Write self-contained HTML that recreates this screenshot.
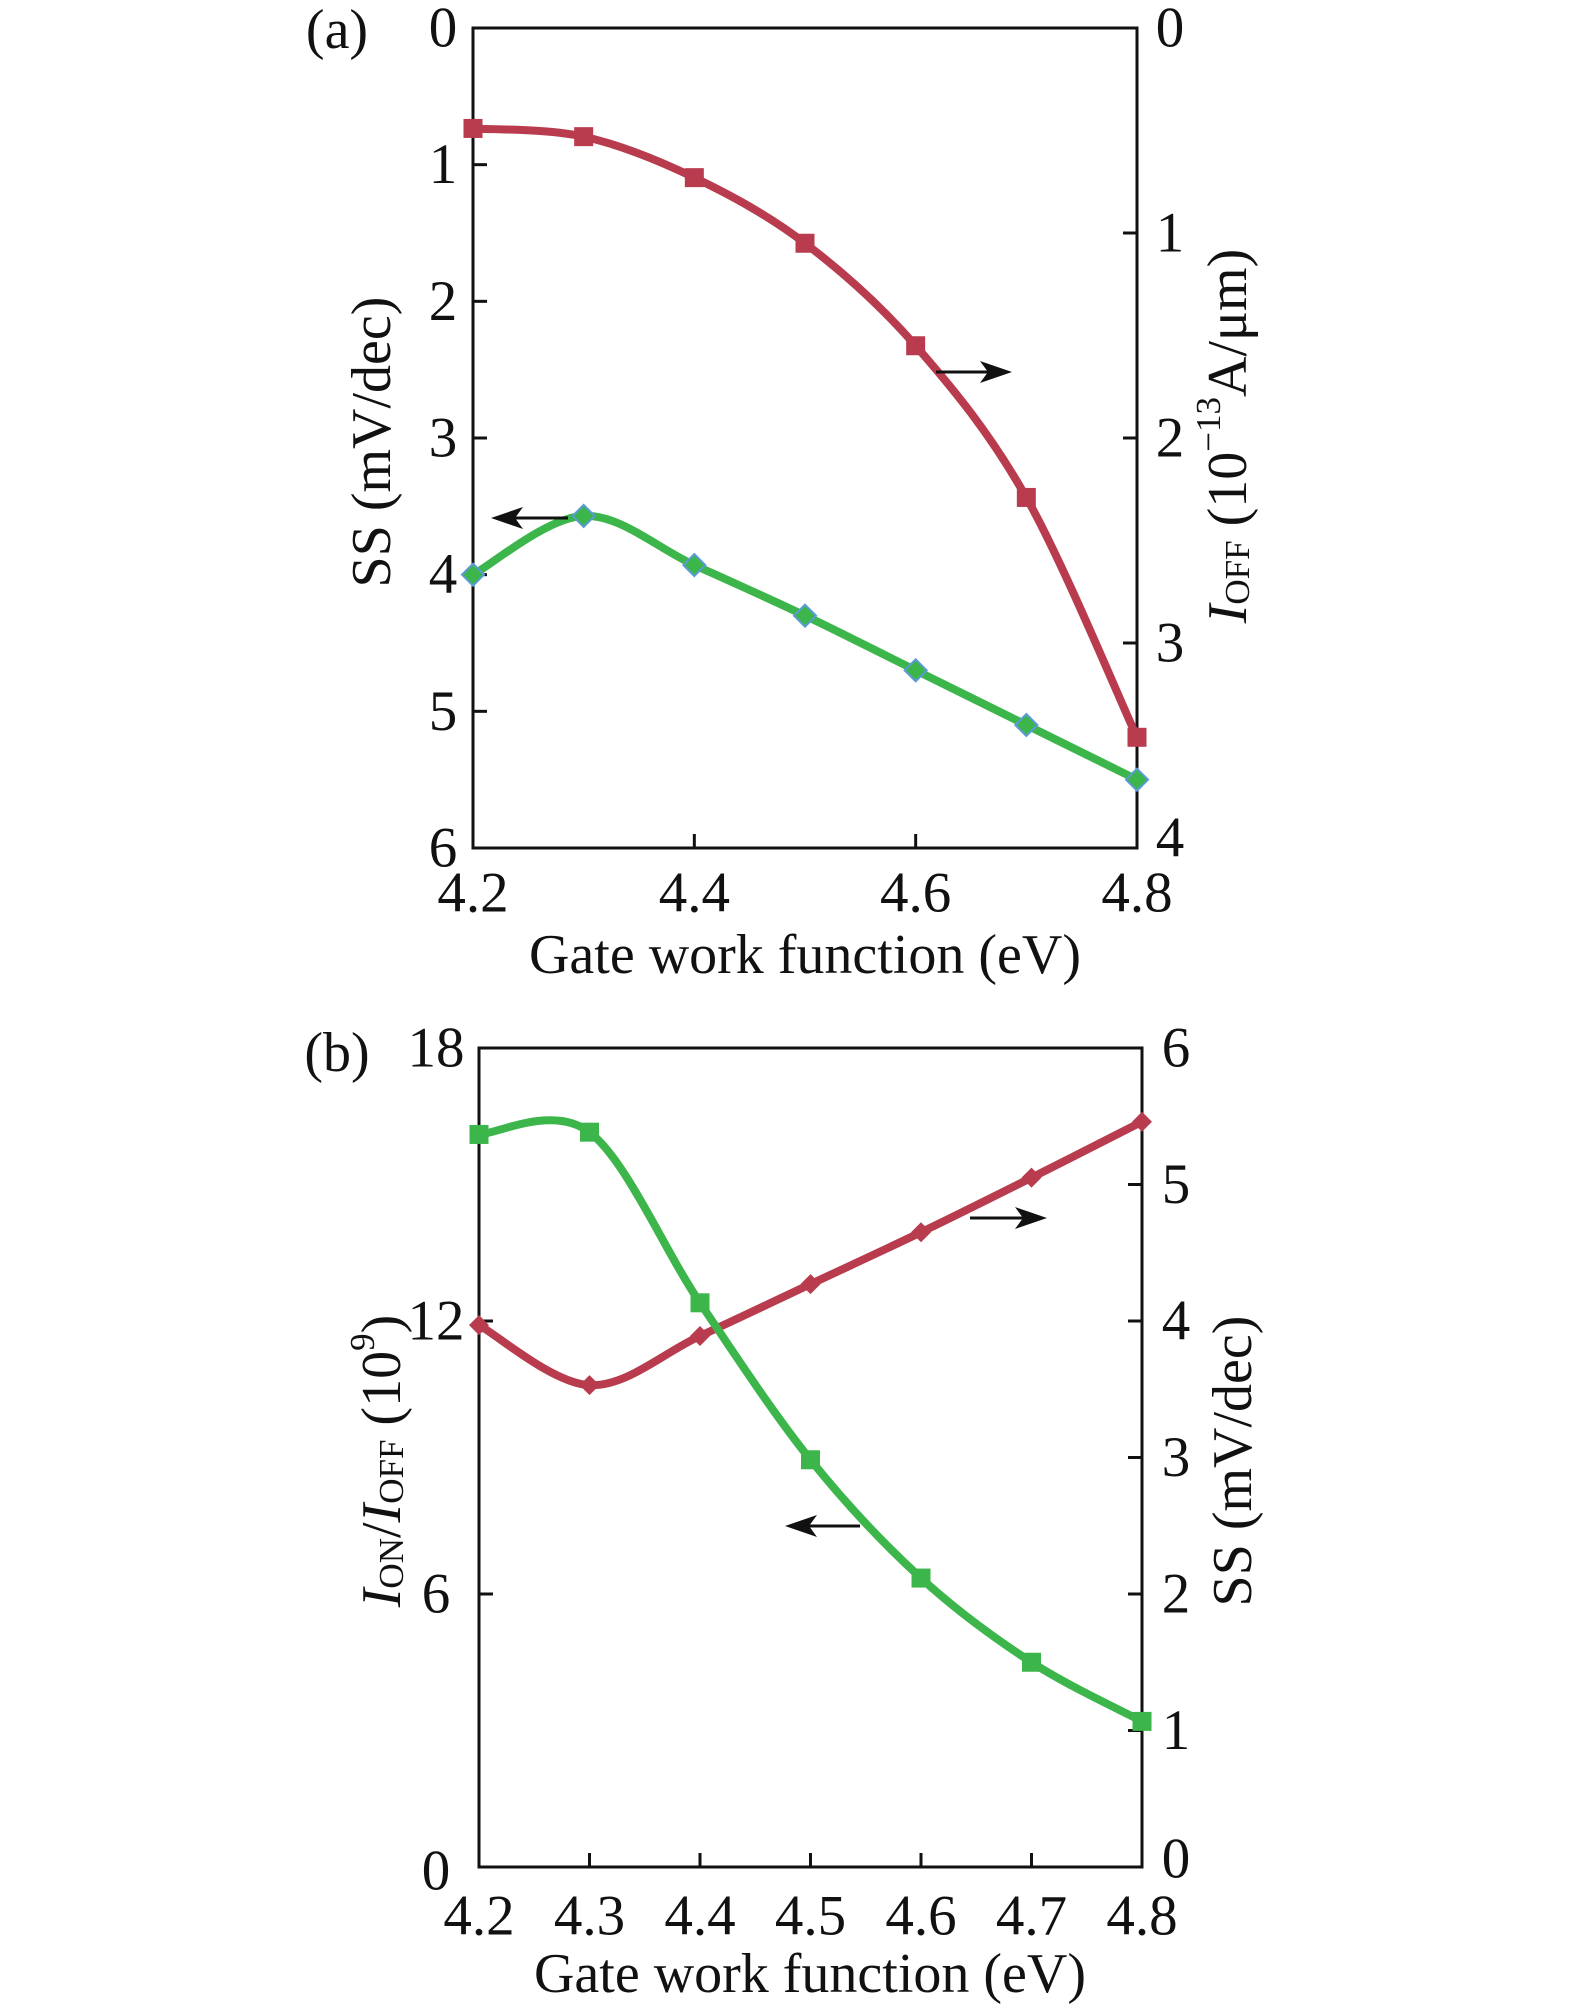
<!DOCTYPE html>
<html><head><meta charset="utf-8"><style>
html,body{margin:0;padding:0;background:#fff;}
svg{display:block;font-family:"Liberation Serif",serif;}
</style></head><body>
<svg id="fig" width="1575" height="2005" viewBox="0 0 1575 2005" xmlns="http://www.w3.org/2000/svg"></svg>
<script>
// Panel (a) data
const xA = [4.2, 4.3, 4.4, 4.5, 4.6, 4.7, 4.8];
const ssA = [4.0, 3.57, 3.93, 4.3, 4.7, 5.1, 5.5];
const ioffA = [0.49, 0.53, 0.73, 1.05, 1.55, 2.29, 3.46];
const xTicksA = [4.2, 4.4, 4.6, 4.8];
const leftTicksA = [0, 1, 2, 3, 4, 5, 6];
const rightTicksA = [0, 1, 2, 3, 4];
// Panel (b) data
const xB = [4.2, 4.3, 4.4, 4.5, 4.6, 4.7, 4.8];
const ratioB = [16.1, 16.15, 12.4, 8.95, 6.35, 4.5, 3.2];
const ssB = [3.97, 3.53, 3.89, 4.27, 4.65, 5.05, 5.46];
const xTicksB = [4.2, 4.3, 4.4, 4.5, 4.6, 4.7, 4.8];
const leftTicksB = [0, 6, 12, 18];
const rightTicksB = [0, 1, 2, 3, 4, 5, 6];

const NS = "http://www.w3.org/2000/svg";
const svg = document.getElementById('fig');
const RED = "#b83c4e", GREEN = "#3cb54a";
const TF = 57, AF = 56, SF = 35;
function mk(tag, attrs, parent) {
  const e = document.createElementNS(NS, tag);
  for (const k in attrs) e.setAttribute(k, attrs[k]);
  (parent || svg).appendChild(e);
  return e;
}
function txt(s, x, y, size, anchor, parent, rot) {
  const t = mk('text', {x: x, y: y, 'font-size': size, 'text-anchor': anchor || 'middle', 'dominant-baseline': 'central', fill: '#111'}, parent);
  if (rot) t.setAttribute('transform', 'rotate(' + rot + ' ' + x + ' ' + y + ')');
  t.innerHTML = s;
  return t;
}
function smoothPath(pts) {
  let d = 'M' + pts[0][0] + ',' + pts[0][1];
  for (let i = 0; i < pts.length - 1; i++) {
    const p0 = pts[Math.max(0, i - 1)], p1 = pts[i], p2 = pts[i + 1], p3 = pts[Math.min(pts.length - 1, i + 2)];
    const c1 = [p1[0] + (p2[0] - p0[0]) / 6, p1[1] + (p2[1] - p0[1]) / 6];
    const c2 = [p2[0] - (p3[0] - p1[0]) / 6, p2[1] - (p3[1] - p1[1]) / 6];
    d += ' C' + c1[0] + ',' + c1[1] + ' ' + c2[0] + ',' + c2[1] + ' ' + p2[0] + ',' + p2[1];
  }
  return d;
}
function arrow(x1, y, x2, g, name) {
  const a = mk('g', {}, g);
  
  
  const dir = x2 > x1 ? 1 : -1;
  mk('line', {x1: x1, y1: y, x2: x2 - dir * 10, y2: y, stroke: '#111', 'stroke-width': 3}, a);
  mk('path', {d: 'M' + x2 + ',' + y + ' L' + (x2 - dir * 32) + ',' + (y - 11) + ' L' + (x2 - dir * 24) + ',' + y + ' L' + (x2 - dir * 32) + ',' + (y + 11) + 'Z', fill: '#111'}, a);
}
function series(g, xs, ys, sx, sy, color, marker, name, edge) {
  const s = mk('g', {}, g);
  
  
  const pts = xs.map((x, i) => [sx(x), sy(ys[i])]);
  mk('path', {d: smoothPath(pts), fill: 'none', stroke: color, 'stroke-width': 8, 'stroke-linejoin': 'round'}, s);
  pts.forEach((p) => {
    let m;
    if (marker === 'square') {
      m = mk('rect', {x: p[0] - 9.5, y: p[1] - 9.5, width: 19, height: 19, fill: color}, s);
    } else {
      const r = marker === 'bigdiamond' ? 11 : 10;
      m = mk('path', {d: 'M' + p[0] + ',' + (p[1] - r) + ' L' + (p[0] + r) + ',' + p[1] + ' L' + p[0] + ',' + (p[1] + r) + ' L' + (p[0] - r) + ',' + p[1] + 'Z', fill: color, stroke: edge || 'none', 'stroke-width': edge ? 2 : 0}, s);
    }
    
    
  });
}

// ---------- Panel (a) ----------
(function () {
  const L = 473, R = 1137, T = 28, B = 848;
  const g = mk('g', {});
  
  
  const sx = v => L + (v - 4.2) / 0.6 * (R - L);
  const syL = v => T + v / 6 * (B - T);
  const syR = v => T + v / 4 * (B - T);
  const frame = mk('rect', {x: L, y: T, width: R - L, height: B - T, fill: 'none', stroke: '#111', 'stroke-width': 3}, g);
  
  
  leftTicksA.forEach(v => {
    mk('line', {x1: L, y1: syL(v), x2: L + 14, y2: syL(v), stroke: '#111', 'stroke-width': 3}, g);
    const t = txt(v, 443, syL(v), TF, 'middle', g);
    
    
  });
  rightTicksA.forEach(v => {
    mk('line', {x1: R, y1: syR(v), x2: R - 14, y2: syR(v), stroke: '#111', 'stroke-width': 3}, g);
    const t = txt(v, 1170, syR(v) + (v === 4 ? -10 : 0), TF, 'middle', g);
    
    
  });
  xTicksA.forEach(v => {
    mk('line', {x1: sx(v), y1: B, x2: sx(v), y2: B - 14, stroke: '#111', 'stroke-width': 3}, g);
    const t = txt(v.toFixed(1), sx(v), 893, TF, 'middle', g);
    
    
  });
  let t = txt('(a)', 337, 30, AF, 'middle', g);
   
  t = txt('Gate work function (eV)', 805, 955, AF, 'middle', g);
   
  t = txt('SS (mV/dec)', 372, 442, AF, 'middle', g, -90);
   
  t = txt('<tspan font-style="italic">I</tspan><tspan font-size="' + SF + '" dy="9">OFF</tspan><tspan dy="-9"> (10</tspan><tspan font-size="' + SF + '" dy="-20">−13</tspan><tspan dy="20">A/μm)</tspan>', 1228, 436, AF, 'middle', g, -90);
   
  series(g, xA, ioffA, sx, syR, RED, 'square', 'ioff-series-a');
  series(g, xA, ssA, sx, syL, GREEN, 'bigdiamond', 'ss-series-a', '#5b9bd5');
  arrow(936, 372, 1012, g, 'arrow-right-a');
  arrow(568, 518, 491, g, 'arrow-left-a');
})();

// ---------- Panel (b) ----------
(function () {
  const L = 479, R = 1142, T = 1048, B = 1867;
  const g = mk('g', {});
  
  
  const sx = v => L + (v - 4.2) / 0.6 * (R - L);
  const syL = v => B - v / 18 * (B - T);
  const syR = v => B - v / 6 * (B - T);
  const frame = mk('rect', {x: L, y: T, width: R - L, height: B - T, fill: 'none', stroke: '#111', 'stroke-width': 3}, g);
  
  
  leftTicksB.forEach(v => {
    mk('line', {x1: L, y1: syL(v), x2: L + 14, y2: syL(v), stroke: '#111', 'stroke-width': 3}, g);
    const t = txt(v, 436, syL(v) + (v === 0 ? 4 : 0), TF, 'middle', g);
    
    
  });
  rightTicksB.forEach(v => {
    mk('line', {x1: R, y1: syR(v), x2: R - 14, y2: syR(v), stroke: '#111', 'stroke-width': 3}, g);
    const t = txt(v, 1176, syR(v) + (v === 0 ? -8 : 0), TF, 'middle', g);
    
    
  });
  xTicksB.forEach(v => {
    mk('line', {x1: sx(v), y1: B, x2: sx(v), y2: B - 14, stroke: '#111', 'stroke-width': 3}, g);
    const t = txt(v.toFixed(1), sx(v), 1916, TF, 'middle', g);
    
    
  });
  let t = txt('(b)', 337, 1053, AF, 'middle', g);
   
  t = txt('Gate work function (eV)', 810, 1974, AF, 'middle', g);
   
  t = txt('<tspan font-style="italic">I</tspan><tspan font-size="' + SF + '" dy="9">ON</tspan><tspan dy="-9">/</tspan><tspan font-style="italic">I</tspan><tspan font-size="' + SF + '" dy="9">OFF</tspan><tspan dy="-9"> (10</tspan><tspan font-size="' + SF + '" dy="-20">9</tspan><tspan dy="20">)</tspan>', 382, 1461, AF, 'middle', g, -90);
   
  t = txt('SS (mV/dec)', 1233, 1461, AF, 'middle', g, -90);
   
  series(g, xB, ssB, sx, syR, RED, 'diamond', 'ss-series-b');
  series(g, xB, ratioB, sx, syL, GREEN, 'square', 'ratio-series-b');
  arrow(970, 1218, 1047, g, 'arrow-right-b');
  arrow(860, 1526, 785, g, 'arrow-left-b');
})();
</script>
</body></html>
